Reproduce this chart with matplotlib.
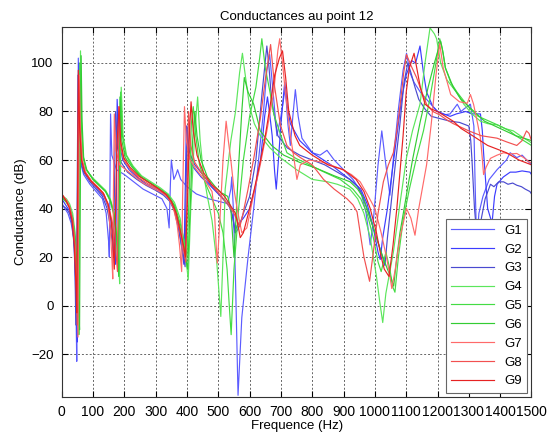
import numpy as np
import matplotlib
matplotlib.use("Agg")
import matplotlib.pyplot as plt

plt.rcParams['font.family'] = ['Liberation Sans', 'DejaVu Sans']

# conductance curves (frequency Hz, dB) for the 9 gauges
g1 = [(0, 20), (1, 42), (10, 40), (20, 38), (30, 34), (38, 28), (43, 15), (46, -5), (48, -23),
      (50, 20), (53, 102), (56, 70), (62, 58), (70, 54), (90, 50), (110, 47), (130, 44), (142, 38),
      (150, 26), (152, 20), (154, 50), (156, 79), (160, 62), (175, 56), (200, 54), (230, 51), (260, 48),
      (290, 46), (320, 44), (336, 40), (343, 32), (347, 50), (350, 60), (358, 52), (365, 54), (370, 56),
      (380, 52), (400, 49), (430, 46), (470, 44), (500, 43), (530, 42), (540, 48), (543, 53), (548, 40),
      (555, 10), (563, -37), (575, -5), (595, 20), (613, 40), (630, 62), (645, 81), (655, 97), (664, 103.5),
      (675, 88), (687, 70), (700, 78), (714, 90), (722, 75), (730, 66), (738, 78), (746, 89), (755, 78),
      (767, 69), (800, 63), (825, 62), (847, 64), (870, 60), (900, 56), (930, 52), (955, 47), (972, 38),
      (985, 25), (995, 35), (1010, 58), (1022, 72), (1035, 58), (1048, 45.5), (1060, 62), (1075, 81),
      (1090, 97), (1101, 104), (1112, 96), (1125, 92), (1145, 88), (1165, 85), (1200, 80), (1221, 78.6),
      (1240, 79), (1263, 83), (1275, 80), (1284, 81), (1305, 83), (1316, 74), (1320, 50), (1325, 25),
      (1332, 38), (1345, 45), (1365, 52), (1390, 56), (1420, 60), (1432, 63), (1453, 61), (1470, 62),
      (1485, 60), (1500, 58)]

g2 = [(0, 44), (5, 43), (15, 41), (25, 39), (35, 33), (42, 22), (47, 0), (50, -15), (52, 30),
      (55, 100), (58, 75), (64, 60), (75, 55), (95, 51), (115, 48), (135, 45), (150, 40), (160, 33),
      (168, 25), (172, 17), (175, 50), (177, 85), (182, 68), (195, 60), (215, 56), (240, 53), (270, 50),
      (300, 48), (325, 46), (345, 44), (362, 39), (375, 31), (385, 22), (390, 17), (394, 45), (398, 74),
      (405, 62), (420, 57), (445, 53), (470, 50), (500, 46), (525, 42.5), (540, 40), (548, 35), (553, 30),
      (560, 33), (580, 36), (600, 40), (620, 50), (635, 60), (648, 78), (657, 86), (665, 78), (672, 70),
      (680, 55), (685, 48), (692, 60), (700, 75), (712, 92), (720, 82), (730, 75), (760, 68), (800, 63),
      (860, 58), (900, 54), (930, 51), (955, 48), (975, 42), (995, 32), (1010, 22), (1017, 19), (1025, 28),
      (1040, 40), (1055, 55), (1070, 70), (1085, 85), (1100, 95), (1117, 101), (1130, 100), (1144, 107),
      (1155, 96), (1165, 88), (1185, 82), (1200, 80), (1240, 78), (1260, 79), (1290, 80), (1310, 79),
      (1337, 79), (1343, 72), (1347, 63), (1360, 40), (1374, 34), (1382, 45), (1390, 50), (1410, 53),
      (1432, 55), (1450, 55), (1470, 55.5), (1495, 55), (1500, 54)]

g3 = [(0, 40), (5, 41), (15, 40), (25, 38), (33, 34), (40, 24), (43, 10), (45, -8), (48, 20),
      (52, 95), (55, 72), (60, 60), (70, 55), (90, 51), (110, 48), (130, 45), (145, 40), (155, 33),
      (162, 25), (165, 20), (168, 45), (172, 80), (178, 65), (190, 59), (210, 55), (240, 52), (270, 49.5),
      (300, 47.5), (325, 45.5), (345, 43), (360, 39), (372, 32), (384, 24), (394, 16), (397, 45),
      (400, 74), (408, 63), (425, 58), (450, 54), (480, 49), (510, 45), (535, 41), (545, 37), (555, 30),
      (565, 32), (580, 38), (600, 45), (620, 60), (640, 88), (655, 107), (662, 98), (670, 85), (690, 70),
      (720, 65), (760, 62), (800, 60), (840, 58), (880, 55), (920, 52), (945, 49), (962, 45), (985, 36),
      (1000, 30), (1020, 22), (1032, 16.5), (1040, 28), (1050, 40), (1065, 58), (1080, 75), (1093, 92),
      (1105, 100), (1115, 96), (1128, 90), (1140, 85), (1160, 81), (1180, 78), (1210, 77), (1240, 76),
      (1270, 75.5), (1300, 74), (1306, 68), (1310, 60), (1318, 40), (1330, 22), (1340, 36), (1352, 44),
      (1369, 50), (1380, 49), (1395, 51), (1411, 51), (1425, 50), (1440, 50.5), (1453, 49.6), (1468, 49),
      (1480, 48), (1495, 47), (1500, 46)]

g4 = [(0, 46), (5, 45), (15, 44), (25, 42), (35, 38), (43, 30), (50, 15), (53, 0), (55, -12),
      (57, 40), (60, 105), (63, 78), (68, 62), (78, 56), (100, 52.5), (120, 50), (140, 47.5), (155, 44),
      (168, 38), (176, 30), (182, 18), (185, 9), (187, 40), (190, 90), (196, 70), (207, 62), (228, 57.5),
      (255, 53.5), (285, 51), (315, 48.5), (340, 46), (360, 42.5), (378, 36), (392, 25), (404, 10.6),
      (412, 40), (425, 72), (434, 86), (442, 68), (452, 55), (465, 45), (480, 35), (495, 18), (508, -4.5),
      (515, 20), (522, 48), (540, 68), (555, 80), (568, 96), (577, 104), (585, 96), (600, 82), (615, 75),
      (634, 70), (665, 65), (698, 61), (750, 56), (800, 52), (850, 51), (880, 50), (920, 48), (945, 44),
      (965, 38), (985, 28), (1005, 12), (1015, 2), (1025, -7), (1035, 5), (1059, 22), (1080, 42),
      (1101, 61), (1120, 72), (1144, 83), (1160, 100), (1176, 114.5), (1190, 112), (1197, 110),
      (1210, 100), (1230, 93), (1260, 88), (1284, 83), (1310, 79), (1337, 76), (1360, 75), (1390, 74.5),
      (1415, 73), (1442, 72), (1470, 69.5), (1495, 67.5), (1500, 67)]

g5 = [(0, 45), (5, 44), (15, 43), (25, 41), (35, 36), (42, 27), (48, 12), (52, -5), (55, 45),
      (58, 100), (62, 75), (68, 61), (78, 56), (100, 52), (120, 49.5), (140, 47), (155, 43), (167, 37),
      (175, 28), (180, 15), (184, 50), (188, 88), (194, 70), (205, 62), (228, 57), (255, 53), (285, 50.5),
      (315, 48), (340, 45.5), (362, 41), (380, 33), (392, 26), (400, 20), (408, 50), (414, 75), (420, 82),
      (428, 70), (440, 58), (460, 50), (480, 44), (500, 38), (515, 30), (528, 15), (535, 0), (541, -12),
      (550, 15), (565, 40), (580, 60), (600, 78), (620, 90), (632, 102), (639, 110), (650, 98), (665, 88),
      (677, 79), (700, 70), (719, 63), (750, 60.5), (783, 58.6), (830, 55.5), (889, 52), (930, 48),
      (955, 44), (975, 38), (995, 28), (1010, 18), (1020, 14), (1035, 22), (1048, 15), (1056, 8),
      (1064, 5.5), (1075, 20), (1090, 35), (1110, 48), (1133, 61), (1155, 72), (1175, 85), (1195, 100),
      (1207, 110), (1215, 106), (1225, 98), (1242, 92), (1262, 88), (1280, 85), (1305, 81), (1330, 78),
      (1365, 76), (1400, 74), (1430, 72), (1450, 70), (1475, 68), (1500, 66)]

g6 = [(0, 45), (5, 44), (15, 42.5), (25, 40.5), (35, 36), (43, 27), (50, 14), (54, 0), (57, -10),
      (59, 40), (62, 103), (65, 76), (70, 61), (80, 56), (100, 52), (120, 49.5), (140, 47), (155, 43.5),
      (167, 38), (176, 28), (182, 12), (184, 45), (186, 86), (192, 68), (203, 61), (225, 57), (252, 53),
      (282, 50.5), (312, 48), (338, 45.5), (358, 41.5), (375, 34), (390, 24), (402, 15), (410, 40),
      (418, 68), (425, 80), (432, 70), (445, 60), (465, 53), (490, 49), (510, 46.5), (530, 45), (540, 40),
      (545, 30), (550, 20), (556, 35), (565, 58), (575, 80), (583, 94), (595, 88), (613, 83), (634, 72),
      (670, 66), (709, 62), (760, 59), (815, 56.5), (870, 53.5), (921, 51), (945, 48), (960, 45),
      (980, 38), (1000, 30), (1020, 22), (1040, 15), (1050, 12), (1060, 8), (1070, 20), (1080, 30),
      (1100, 45), (1120, 60), (1145, 76), (1170, 90), (1190, 100), (1210, 109), (1218, 104), (1225, 98),
      (1250, 90), (1275, 85), (1300, 82), (1325, 79), (1350, 76), (1375, 74.5), (1400, 73), (1425, 71.5),
      (1450, 70), (1475, 69), (1500, 68)]

g7 = [(0, 65), (1, 46), (5, 45), (15, 43.5), (25, 41), (35, 35), (43, 24), (48, 8), (52, -13),
      (54, 40), (56, 95), (60, 72), (66, 60), (76, 55), (95, 51.5), (115, 49), (135, 46), (148, 41),
      (156, 30), (160, 20), (163, 11), (165, 45), (168, 79), (173, 64), (185, 58), (205, 56), (230, 53.5),
      (260, 50.5), (290, 48.5), (320, 46.5), (340, 44.5), (356, 40.5), (368, 34), (376, 25), (383, 14),
      (386, 45), (392, 82), (398, 68), (410, 60), (430, 56), (455, 52), (480, 47), (488, 38), (493, 25),
      (497, 17.5), (505, 35), (515, 60), (525, 76), (532, 68), (540, 60), (550, 48), (560, 40), (575, 30),
      (591, 32), (610, 44), (634, 58), (655, 72), (677, 88), (690, 105), (696, 110), (705, 100), (714, 88),
      (730, 70), (740, 62), (751, 52), (762, 58), (790, 60), (836, 59), (889, 56.5), (925, 54), (953, 51),
      (975, 46), (1000, 40), (1020, 30), (1038, 19.3), (1048, 12), (1054, 7), (1065, 15), (1080, 28),
      (1101, 40), (1115, 36), (1128, 29), (1140, 40), (1165, 58), (1180, 75), (1195, 95), (1207, 108),
      (1218, 98), (1242, 87), (1270, 84), (1295, 83.4), (1305, 87), (1315, 83), (1328, 75), (1337, 69),
      (1342, 62), (1347, 54), (1355, 57), (1369, 60.7), (1390, 62), (1411, 63), (1430, 62.5),
      (1453, 62.7), (1475, 61), (1495, 59), (1500, 59)]

g8 = [(0, 46), (5, 45), (15, 43), (25, 40.5), (35, 35), (42, 25), (47, 8), (50, -8), (52, 35),
      (54, 93), (58, 72), (64, 60), (74, 55), (95, 51), (115, 48.5), (135, 45.5), (150, 41), (162, 34),
      (172, 24), (178, 14), (180, 45), (183, 82), (188, 66), (198, 60), (220, 56), (248, 52.5), (278, 50),
      (308, 48), (335, 45.5), (352, 42), (368, 36), (382, 28), (396, 18), (400, 45), (405, 80), (412, 66),
      (425, 59), (450, 54), (480, 49.5), (510, 45), (535, 41), (550, 38), (560, 35), (569, 32.6),
      (579, 38), (595, 48), (615, 62), (635, 78), (652, 95), (667, 107.6), (680, 90), (698, 74.5),
      (719, 66), (740, 63), (762, 61), (800, 58), (836, 52), (870, 48), (911, 44), (930, 41.5),
      (943, 38.6), (953, 30), (965, 20), (983, 10), (995, 22), (1010, 38), (1027, 51), (1043, 58),
      (1059, 63), (1070, 72), (1080, 82), (1092, 96), (1101, 103.5), (1115, 99), (1133, 94), (1150, 88),
      (1165, 83), (1185, 80), (1207, 78.6), (1230, 76.5), (1250, 75), (1275, 73.5), (1300, 72),
      (1320, 71), (1340, 70), (1365, 69.5), (1390, 69), (1420, 67.5), (1453, 66), (1470, 68), (1484, 72),
      (1492, 71), (1500, 68)]

g9 = [(0, 46), (5, 45), (15, 43), (25, 40), (33, 35), (40, 25), (45, 10), (48, -3), (50, 35),
      (53, 97), (57, 74), (63, 60), (73, 55), (92, 51.5), (112, 49), (132, 46.5), (148, 42), (158, 35),
      (164, 25), (168, 15), (172, 40), (176, 65), (183, 82), (188, 68), (198, 61), (218, 57), (245, 53.5),
      (275, 51), (305, 48.5), (332, 46), (350, 43), (366, 38), (380, 30), (390, 24), (395, 20), (402, 45),
      (408, 72), (413, 84), (420, 72), (432, 62), (452, 55), (478, 50), (500, 47.5), (520, 45), (540, 41),
      (555, 38), (563, 33), (570, 28), (580, 30), (600, 40), (615, 48), (635, 60), (650, 70), (665, 82),
      (680, 95), (695, 102), (705, 105), (715, 94), (725, 80), (745, 70), (760, 66), (800, 62), (850, 58),
      (900, 56), (940, 52), (965, 47), (985, 40), (1005, 30), (1020, 20), (1030, 15), (1045, 12),
      (1058, 25), (1070, 40), (1080, 55), (1090, 70), (1100, 88), (1110, 98), (1125, 104), (1135, 97),
      (1145, 90), (1160, 83), (1180, 81), (1200, 80), (1225, 78), (1250, 76), (1275, 73), (1300, 71),
      (1330, 68.5), (1360, 66), (1390, 64.5), (1420, 63), (1440, 61.5), (1460, 60), (1480, 59),
      (1500, 58)]

curves = [g1, g2, g3, g4, g5, g6, g7, g8, g9]
labels = ['G1', 'G2', 'G3', 'G4', 'G5', 'G6', 'G7', 'G8', 'G9']
colors = ['#5c5cff', '#3c3cff', '#4a4ad0',
          '#5ce65c', '#44dc44', '#33cc33',
          '#ff6a6a', '#f25050', '#e62222']

fig = plt.figure(figsize=(5.51, 4.36), dpi=100)
ax = fig.add_axes([0.112, 0.090, 0.8526, 0.849])

for pts, lab, col in zip(curves, labels, colors):
    arr = np.array(pts, dtype=float)
    ax.plot(arr[:, 0], arr[:, 1], color=col, lw=0.85, label=lab)

ax.set_xlim(0, 1500)
ax.set_ylim(-37.6, 115)
ax.set_xticks(np.arange(0, 1501, 100))
ax.set_yticks(np.arange(-20, 101, 20))
ax.grid(True, color='#666666', linestyle=(0, (2, 2)), linewidth=0.7)
ax.tick_params(direction='in', top=True, right=True, length=4, pad=6)
ax.tick_params(axis='x', labelsize=10)
ax.tick_params(axis='y', labelsize=9.5)
for s in ax.spines.values():
    s.set_color('#333333')

ax.set_title('Conductances au point 12', fontsize=9.5, pad=5)
ax.set_xlabel('Frequence (Hz)', fontsize=9.5, labelpad=1)
ax.set_ylabel('Conductance (dB)', fontsize=9.5, labelpad=3)

leg = ax.legend(loc='lower right', bbox_to_anchor=(0.991, 0.011), borderaxespad=0,
                fontsize=9.5, handlelength=3.2, fancybox=False, framealpha=1,
                edgecolor='#666666', labelspacing=0.5, handletextpad=0.8, borderpad=0.4)
leg.get_frame().set_linewidth(0.8)

fig.savefig('out.png', dpi=100)
